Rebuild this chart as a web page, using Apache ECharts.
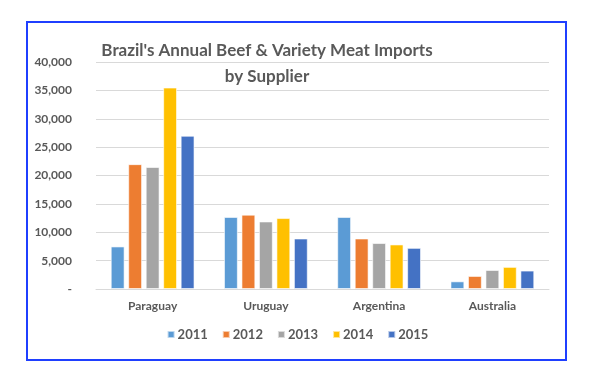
<!DOCTYPE html>
<html><head><meta charset="utf-8">
<script src="https://cdn.jsdelivr.net/npm/echarts@6/dist/echarts.min.js"></script>
<style>html,body{margin:0;padding:0;background:#fff}#c{width:595px;height:388px}</style>
</head><body><div id="c"></div>
<script>
const categories = ['Paraguay', 'Uruguay', 'Argentina', 'Australia'];
const years = ['2011', '2012', '2013', '2014', '2015'];
const v2011 = [7500, 12700, 12700, 1350];
const v2012 = [22000, 13100, 8900, 2300];
const v2013 = [21500, 11900, 8100, 3350];
const v2014 = [35500, 12500, 7850, 3900];
const v2015 = [27000, 8900, 7250, 3250];
const seriesValues = [v2011, v2012, v2013, v2014, v2015];
const colors = ['#5B9BD5', '#ED7D31', '#A5A5A5', '#FFC000', '#4472C4'];
const FONT = 'Lato';

const chart = echarts.init(document.getElementById('c'), null, {renderer: 'canvas'});
chart.setOption({
  animation: false,
  backgroundColor: '#fff',
  color: colors,
  title: {
    text: "Brazil's Annual Beef & Variety Meat Imports\nby Supplier",
    left: 262, top: 33, textAlign: 'center',
    textStyle: {fontFamily: FONT, fontSize: 17, fontWeight: 'bold', color: '#595959', lineHeight: 26}
  },
  graphic: [{
    type: 'rect', shape: {x: 27, y: 22, width: 539, height: 338},
    style: {fill: 'none', stroke: '#1f3fff', lineWidth: 2}, z: 100
  }],
  legend: {
    data: years, bottom: 42, left: 'center', itemWidth: 7, itemHeight: 7, itemGap: 14,
    icon: 'rect',
    textStyle: {fontFamily: FONT, fontSize: 13, color: '#595959', fontWeight: 'bold', padding: [0, 0, 0, -2]}
  },
  grid: {left: 96, right: 46, top: 62, bottom: 99},
  xAxis: {
    type: 'category', data: categories,
    axisLine: {lineStyle: {color: '#d9d9d9'}}, axisTick: {show: false},
    axisLabel: {fontFamily: FONT, fontSize: 12, color: '#595959', fontWeight: 'bold', margin: 11}
  },
  yAxis: {
    type: 'value', min: 0, max: 40000, interval: 5000,
    axisLine: {show: false}, axisTick: {show: false},
    splitLine: {lineStyle: {color: '#d9d9d9'}},
    axisLabel: {fontFamily: FONT, fontSize: 12, color: '#595959', fontWeight: 'bold', margin: 24,
      formatter: v => v === 0 ? '-' : v.toLocaleString('en-US')}
  },
  series: years.map((y, i) => ({
    name: y, type: 'bar', data: seriesValues[i],
    barGap: '26%', barCategoryGap: '26%',
    itemStyle: {color: colors[i], borderColor: 'rgba(255,255,255,0.6)', borderWidth: 1}
  }))
});
</script></body></html>
